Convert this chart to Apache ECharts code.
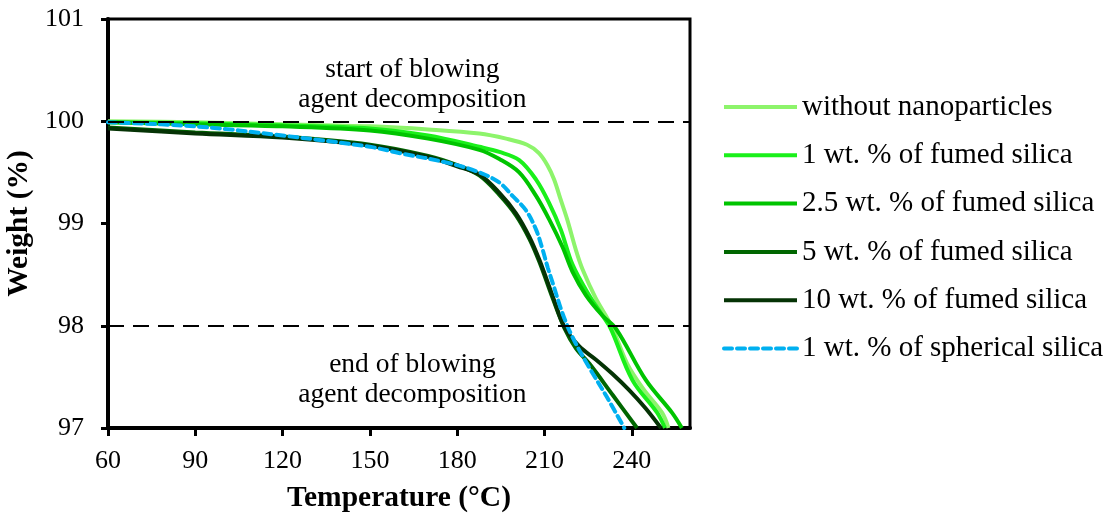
<!DOCTYPE html>
<html>
<head>
<meta charset="utf-8">
<script src="https://cdn.jsdelivr.net/npm/echarts@6/dist/echarts.min.js"></script>
<style>html,body{margin:0;padding:0;background:#fff}#chart{width:1113px;height:516px}</style>
</head>
<body>
<div id="chart"></div>
<script>
// ---- data (temperature °C, weight %) ----
const seriesNames = ['without nanoparticles','1 wt. % of fumed silica','2.5 wt. % of fumed silica','5 wt. % of fumed silica','10 wt. % of fumed silica','1 wt. % of spherical silica'];
const withoutNano = [[60,100.00],[90,99.99],[120,99.97],[150,99.95],[170,99.92],[187.6,99.88],[196.8,99.83],[204,99.77],[208,99.69],[211,99.57],[213.3,99.43],[215.6,99.23],[217.8,99.04],[220.8,98.74],[223.1,98.55],[227.6,98.27],[233,98.0],[238.4,97.63],[244,97.38],[250.4,97.15],[252.6,97.00]];
const fumed1 = [[60,99.99],[90,99.98],[120,99.96],[150,99.93],[170,99.86],[187.6,99.75],[194.5,99.70],[201.3,99.62],[207.1,99.43],[211.6,99.20],[215.6,98.94],[219.6,98.60],[225.3,98.30],[229.9,98.10],[232.8,97.97],[240.2,97.47],[248.7,97.15],[251.4,97.00]];
const fumed25 = [[60,99.99],[90,99.97],[120,99.95],[150,99.91],[170,99.83],[187.6,99.72],[194.5,99.63],[201.3,99.50],[207.1,99.27],[211.6,99.04],[216.2,98.77],[219.6,98.53],[224.2,98.30],[229.9,98.10],[234.6,97.97],[244.8,97.47],[253.8,97.15],[257.2,97.00]];
const fumed5 = [[60,99.94],[90,99.89],[120,99.85],[150,99.77],[170,99.66],[180,99.57],[187.6,99.47],[194.5,99.28],[200.2,99.08],[204.8,98.85],[208.3,98.62],[212.8,98.27],[216.8,97.98],[220.8,97.78],[225.4,97.63],[233.5,97.32],[241.8,97.00]];
const fumed10 = [[60,99.93],[90,99.88],[120,99.84],[150,99.76],[170,99.65],[180,99.56],[187.6,99.48],[194.5,99.30],[200.2,99.10],[204.8,98.87],[208.3,98.64],[212.8,98.29],[216.8,97.99],[221.9,97.80],[227.6,97.67],[233.3,97.53],[239.1,97.37],[244.8,97.19],[250,97.00]];
const spherical1 = [[60,99.99],[90,99.95],[120,99.86],[150,99.75],[160,99.69],[177.3,99.59],[187.6,99.50],[194.5,99.40],[199,99.27],[203.6,99.13],[207.1,98.94],[209.3,98.75],[211.1,98.57],[212.8,98.42],[216.2,98.12],[219.6,97.89],[225.4,97.59],[231.5,97.30],[237.4,97.00]];
const refLevels = [100, 98];
const annotations = [{t:164.6, w:100.36, text:'start of blowing\nagent decomposition'},{t:164.6, w:97.47, text:'end of blowing\nagent decomposition'}];
const xMin = 60, xMax = 260, xStep = 30;
const yMin = 97, yMax = 101, yStep = 1;

const colors = ['#8df46b','#1af01a','#00c400','#006600','#053305','#00b0f0'];
const dataSets = [withoutNano, fumed1, fumed25, fumed5, fumed10, spherical1];
const font = 'Liberation Serif, Times New Roman, serif';

const chart = echarts.init(document.getElementById('chart'));
const series = [{
  type:'line', data:[], silent:true,
  markLine:{silent:true, symbol:'none', label:{show:false},
    lineStyle:{color:'#000', type:[16,9], width:2},
    data: refLevels.map(v=>({yAxis:v}))}
}];
dataSets.forEach((d,i)=>{
  series.push({
    name: seriesNames[i], type:'line', data:d, symbol:'none', smooth:0.35,
    lineStyle:{color:colors[i], width:4, type: i===5?[8,5]:'solid', cap: i===5?'round':'butt'},
    itemStyle:{color:colors[i]}
  });
});

chart.setOption({
  animation:false,
  grid:{left:108, top:19, right:423, bottom:88, show:true, borderColor:'#000', borderWidth:3, containLabel:false, outerBoundsMode:'none'},
  legend:{orient:'vertical', left:717, top:87.5, itemWidth:73, itemHeight:14, itemGap:19.3,
    data: seriesNames, itemStyle:{opacity:0}, lineStyle:{width:4},
    textStyle:{fontFamily:font, fontSize:29, color:'#000'}},
  xAxis:{type:'value', min:xMin, max:xMax, interval:xStep,
    name:'Temperature (°C)', nameLocation:'middle', nameGap:55,
    nameTextStyle:{fontFamily:font, fontSize:29.5, fontWeight:'bold', color:'#000'},
    axisLine:{lineStyle:{color:'#000', width:4}},
    axisTick:{inside:false, length:8, lineStyle:{color:'#000', width:3}},
    axisLabel:{fontFamily:font, fontSize:26, color:'#000', margin:20, showMaxLabel:false},
    splitLine:{show:false}},
  yAxis:{type:'value', min:yMin, max:yMax, interval:yStep,
    name:'Weight (%)', nameLocation:'middle', nameGap:66,
    nameTextStyle:{fontFamily:font, fontSize:29.5, fontWeight:'bold', color:'#000'},
    axisLine:{lineStyle:{color:'#000', width:4}},
    axisTick:{inside:false, length:7, lineStyle:{color:'#000', width:3}},
    axisLabel:{fontFamily:font, fontSize:26, color:'#000', margin:24},
    splitLine:{show:false}},
  series
});

// annotation texts placed at data coordinates via the chart's own scales
chart.setOption({
  graphic: annotations.map(a => {
    const p = chart.convertToPixel({gridIndex:0}, [a.t, a.w]);
    return {type:'text', x:p[0], y:p[1], silent:true, z:10,
      style:{text:a.text, fill:'#000', font:'27.5px ' + font, lineHeight:30, align:'center', verticalAlign:'middle'}};
  })
});
</script>
</body>
</html>
